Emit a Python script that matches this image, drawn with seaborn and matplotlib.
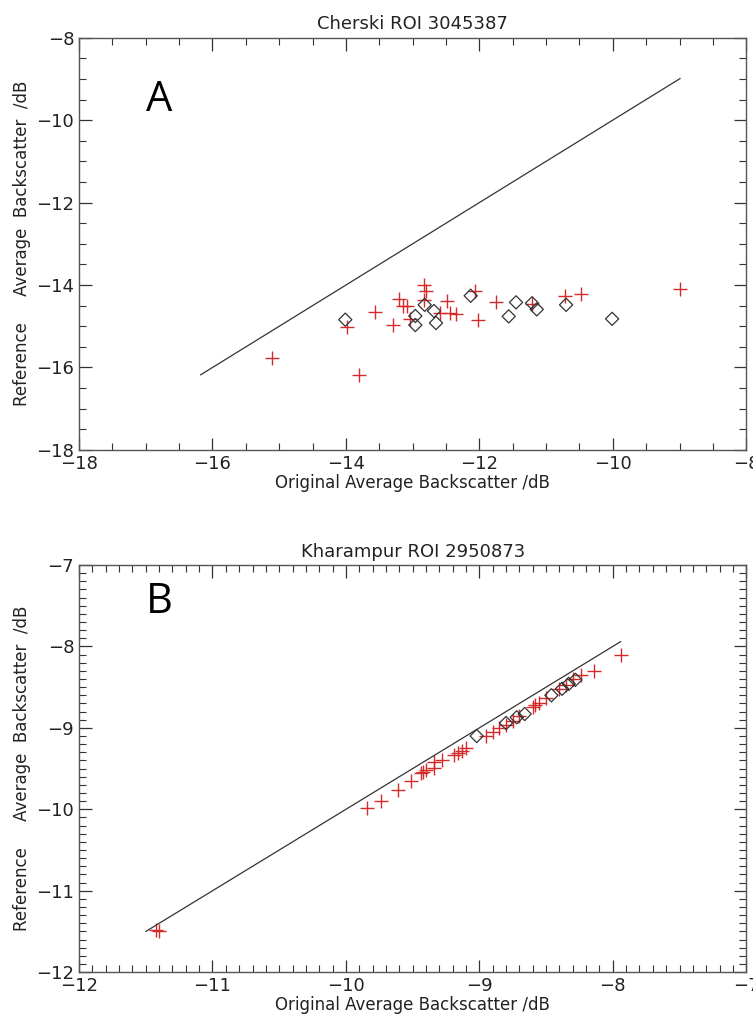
import matplotlib
matplotlib.use("Agg")
import matplotlib.pyplot as plt
import numpy as np
import pandas as pd
import seaborn as sns
from matplotlib.ticker import MultipleLocator


cherski_cross_x = [-15.11, -13.81, -13.99, -13.56, -13.30, -13.20, -13.15, -13.08,
                   -13.04, -12.83, -12.80, -12.83, -12.49, -12.59, -12.44, -12.35,
                   -12.06, -12.02, -11.75, -11.21, -10.71, -10.48, -8.99]
cherski_cross_y = [-15.76, -16.18, -15.02, -14.66, -14.97, -14.34, -14.52, -14.52,
                   -14.82, -14.00, -14.14, -14.36, -14.38, -14.67, -14.67, -14.70,
                   -14.14, -14.84, -14.40, -14.46, -14.26, -14.21, -14.10]
cherski_diam_x = [-14.01, -12.96, -12.96, -12.82, -12.68, -12.65, -12.13,
                  -11.45, -11.56, -11.21, -11.14, -10.70, -10.01]
cherski_diam_y = [-14.84, -14.75, -14.97, -14.48, -14.63, -14.92, -14.26,
                  -14.42, -14.76, -14.44, -14.59, -14.48, -14.82]

kharampur_cross_x = [-11.42, -11.40, -9.84, -9.74, -9.61, -9.51, -9.44, -9.42,
                     -9.40, -9.34, -9.34, -9.28, -9.19, -9.16, -9.13, -9.10,
                     -8.95, -8.90, -8.85, -8.80, -8.75, -8.70, -8.60, -8.58,
                     -8.55, -8.50, -8.40, -8.35, -8.30, -8.24, -8.14, -7.94]
kharampur_cross_y = [-11.48, -11.50, -9.99, -9.90, -9.76, -9.65, -9.56, -9.54,
                     -9.52, -9.49, -9.42, -9.39, -9.33, -9.31, -9.28, -9.25,
                     -9.10, -9.05, -9.00, -8.96, -8.92, -8.86, -8.74, -8.72,
                     -8.70, -8.63, -8.52, -8.47, -8.40, -8.35, -8.30, -8.11]
kharampur_diam_x = [-9.02, -8.80, -8.72, -8.66, -8.46, -8.38, -8.33, -8.28]
kharampur_diam_y = [-9.10, -8.94, -8.87, -8.83, -8.60, -8.52, -8.46, -8.41]

titles = ["Cherski ROI 3045387", "Kharampur ROI 2950873"]
panel_letters = ["A", "B"]
xlabel = "Original Average Backscatter /dB"
ylabel = "Reference     Average  Backscatter  /dB"


# Function, ..............................................................
def roi_panel(ax, cx, cy, dx, dy, lims, major, minor, title, letter):
    cross = pd.DataFrame({"x": cx, "y": cy})
    diam = pd.DataFrame({"x": dx, "y": dy})

    # 1:1 line over the range of the data
    lo = min(min(cx), min(cy), min(dx), min(dy))
    hi = max(max(cx), max(cy), max(dx), max(dy))
    one = pd.DataFrame({"x": [lo, hi], "y": [lo, hi]})
    sns.lineplot(data=one, x="x", y="y", ax=ax, color="#333333",
                 linewidth=0.9, legend=False)

    sns.scatterplot(data=cross, x="x", y="y", ax=ax, marker="+",
                    s=110, color="#d42a2a", linewidth=1.0, legend=False)
    sns.scatterplot(data=diam, x="x", y="y", ax=ax, marker="D",
                    s=45, facecolor="none", edgecolor="#333333",
                    linewidth=0.9, legend=False)

    ax.set_xlim(lims)
    ax.set_ylim(lims)
    ax.xaxis.set_major_locator(MultipleLocator(major))
    ax.yaxis.set_major_locator(MultipleLocator(major))
    ax.xaxis.set_minor_locator(MultipleLocator(minor))
    ax.yaxis.set_minor_locator(MultipleLocator(minor))
    ax.tick_params(which="both", direction="in", top=True, right=True,
                   colors="#333333", labelcolor="#222222", labelsize=13)
    ax.tick_params(which="major", length=9, width=0.9)
    ax.tick_params(which="minor", length=5, width=0.8)
    for s in ax.spines.values():
        s.set_color("#555555")
        s.set_linewidth(1.0)

    ax.set_title(title, fontsize=13, color="#222222", pad=6)
    ax.set_xlabel(xlabel, fontsize=12, color="#222222", labelpad=1)
    ax.set_ylabel(ylabel, fontsize=12, color="#222222", labelpad=4)
    ax.text(0.12, 0.85 if letter == "A" else 0.91, letter,
            transform=ax.transAxes, ha="center", va="center",
            fontsize=30, family="Open Sans", color="black")


# Figure, ................................................................
sns.set_style("ticks")
plt.rcParams["font.family"] = ["DejaVu Sans"]

fig = plt.figure(figsize=(7.53, 10.18), dpi=100, facecolor="white")
ax1 = fig.add_axes([0.105, 0.558, 0.886, 0.405])
ax2 = fig.add_axes([0.105, 0.045, 0.886, 0.400])

roi_panel(ax1, cherski_cross_x, cherski_cross_y, cherski_diam_x, cherski_diam_y,
          (-18, -8), 2, 0.5, titles[0], panel_letters[0])
roi_panel(ax2, kharampur_cross_x, kharampur_cross_y, kharampur_diam_x,
          kharampur_diam_y, (-12, -7), 1, 0.1, titles[1], panel_letters[1])

fig.savefig("out.png", dpi=100, facecolor="white")
